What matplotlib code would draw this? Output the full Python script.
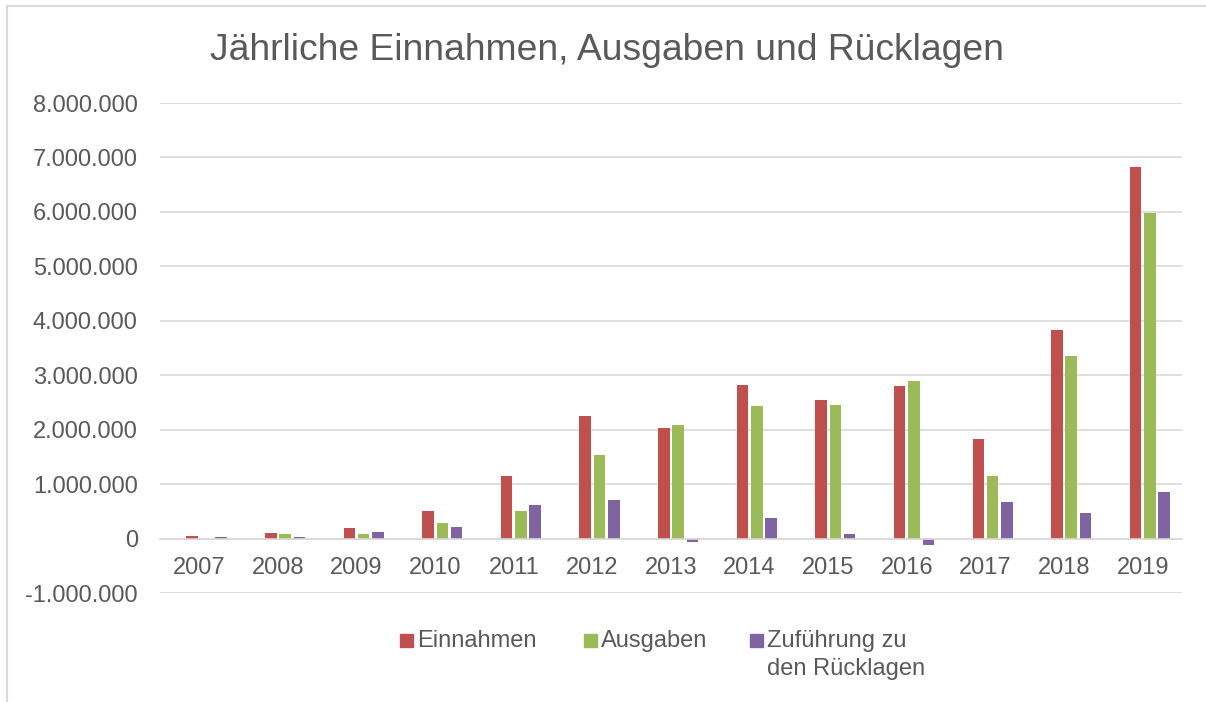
#!/usr/bin/env python3

import matplotlib

matplotlib.use("Agg")
import matplotlib.pyplot as plt
from matplotlib.lines import Line2D
from matplotlib.patches import Rectangle
from matplotlib.ticker import FuncFormatter, MultipleLocator
import numpy as np

# values (EUR)
years = ["2007", "2008", "2009", "2010", "2011", "2012", "2013",
         "2014", "2015", "2016", "2017", "2018", "2019"]
einnahmen = [40000, 110000, 190000, 515000, 1150000, 2250000, 2025000,
             2823000, 2540000, 2805000, 1830000, 3835000, 6830000]
ausgaben = [0, 75000, 75000, 294000, 508000, 1540000, 2078000,
            2442000, 2460000, 2902000, 1153000, 3357000, 5975000]
ruecklagen = [36000, 35000, 118000, 220000, 620000, 700000, -60000,
              375000, 75000, -115000, 670000, 478000, 854000]

series_labels = ["Einnahmen", "Ausgaben", "Zuführung zu\nden Rücklagen"]
title = "Jährliche Einnahmen, Ausgaben und Rücklagen"

COLORS = ["#C0504D", "#9BBB59", "#8064A2"]
TEXT = "#595959"
GRID = "#D9D9D9"

plt.rcParams["font.family"] = ["Liberation Sans", "DejaVu Sans"]

W, H = 1206, 702
fig = plt.figure(figsize=(W / 100, H / 100), dpi=100)
fig.patch.set_facecolor("white")

# plot area in pixels: x 160..1182, y 103 (8 Mio) .. 593 (-1 Mio)
ax = fig.add_axes([160 / W, 1 - 593 / H, (1182 - 160) / W, (593 - 103) / H])

x = np.arange(len(years))
pitch = 0.182
width = 0.146
offsets = [-0.5 * pitch, 0.5 * pitch, 1.5 * pitch]
for vals, off, color, label in zip([einnahmen, ausgaben, ruecklagen], offsets, COLORS, series_labels):
    ax.bar(x + off, vals, width=width, color=color, label=label, zorder=3)

ax.set_xlim(-0.5, len(years) - 0.5)
ax.set_ylim(-1_000_000, 8_000_000)
ax.yaxis.set_major_locator(MultipleLocator(1_000_000))
ax.yaxis.set_major_formatter(FuncFormatter(lambda v, _: f"{int(round(v)):,}".replace(",", ".")))
ax.grid(axis="y", color=GRID, linewidth=1.2, zorder=0)

ax.set_xticks(x)
ax.set_xticklabels(years)
for side in ["top", "right", "left"]:
    ax.spines[side].set_visible(False)
ax.spines["bottom"].set_position(("data", 0))
ax.spines["bottom"].set_color(GRID)
ax.spines["bottom"].set_linewidth(1.2)
ax.spines["bottom"].set_zorder(4)
ax.tick_params(axis="both", length=0, labelsize=17, labelcolor=TEXT)
ax.tick_params(axis="x", pad=13)
ax.tick_params(axis="y", pad=16)

fig.text(607 / W, 1 - 50 / H, title, ha="center", va="center", fontsize=26.8, color=TEXT)

# legend drawn by hand so the swatches sit on the first text line
legend_x = [400, 584, 750]
sq = 13
line_step = 28.5
for lx, color, label in zip(legend_x, COLORS, series_labels):
    fig.add_artist(Rectangle((lx / W, 1 - (640.5 + sq / 2) / H), sq / W, sq / H,
                             transform=fig.transFigure, color=color))
    for i, part in enumerate(label.split("\n")):
        fig.text((lx + 17) / W, 1 - (647 + i * line_step) / H, part, ha="left",
                 va="baseline", fontsize=17, color=TEXT)

# chart frame (only left and top edges visible in the crop)
fig.add_artist(Line2D([7 / W, 7 / W], [0, 1 - 6 / H], transform=fig.transFigure, color=GRID, lw=1.5))
fig.add_artist(Line2D([7 / W, 1], [1 - 6 / H, 1 - 6 / H], transform=fig.transFigure, color=GRID, lw=1.5))

fig.savefig("out.png", dpi=100)
